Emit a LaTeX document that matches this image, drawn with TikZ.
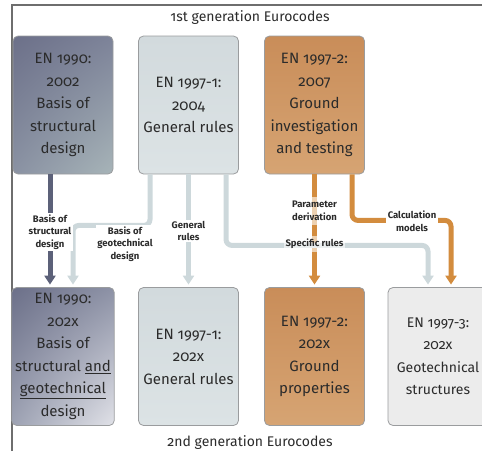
\documentclass[tikz,border=0pt]{standalone}
\usepackage{fontspec}
\setmainfont{Fira Sans}[Numbers=OldStyle]
\usetikzlibrary{arrows.meta,shadings}
\definecolor{ink}{HTML}{2B2B2B}
\definecolor{boxedge}{HTML}{9A9C9E}
\definecolor{slate}{HTML}{5C6179}
\definecolor{mist}{HTML}{CDD8DB}
\definecolor{amber}{HTML}{D38C3E}
\definecolor{frameline}{HTML}{6E6E6E}
% box fills
\definecolor{slateA}{HTML}{6C7089}
\definecolor{slateB}{HTML}{7D8399}
\definecolor{slateC}{HTML}{8A92A3}
\definecolor{slateD}{HTML}{A7B4B8}
\definecolor{slateE}{HTML}{8D92A6}
\definecolor{slateF}{HTML}{9DA2B3}
\definecolor{slateG}{HTML}{E1E2E8}
\definecolor{mistA}{HTML}{D2DADD}
\definecolor{mistB}{HTML}{DCE3E5}
\definecolor{tanA}{HTML}{C98D59}
\definecolor{tanB}{HTML}{D6A473}
\definecolor{pale}{HTML}{ECECEC}
\begin{document}
\begin{tikzpicture}[x=1pt,y=-1pt,
  box/.style={draw=boxedge,line width=.8pt,rounded corners=5pt,minimum width=100pt,minimum height=138pt,align=center,text=ink,font=\fontsize{15}{22.5}\selectfont},
  tag/.style={fill=white,inner sep=1.5pt,align=center,text=ink,font=\bfseries\fontsize{9.5}{12.5}\selectfont},
  link/.style={line width=5pt,rounded corners=6pt,-{Triangle[width=11pt,length=9pt]},shorten >=2.5pt},
  title/.style={text=ink,font=\fontsize{14}{16}\selectfont}]
\useasboundingbox (0,0) rectangle (482,451);
\draw[frameline,line width=1.3pt] (12,451) -- (12,5) -- (482,5);
\node(first)[title] at (250,18){1st generation Eurocodes};
\node(second)[title] at (250,443){2nd generation Eurocodes};
% first generation
\node(old1)[box,shade,upper left=slateA,upper right=slateB,lower left=slateC,lower right=slateD] at (63,105){EN 1990:\\2002\\Basis of\\structural\\design};
\node(old2)[box,shade,top color=mistA,bottom color=mistB] at (188.5,105){EN 1997-1:\\2004\\General rules};
\node(old3)[box,shade,top color=tanA,bottom color=tanB] at (314.5,105){EN 1997-2:\\2007\\Ground\\investigation\\and testing};
% second generation
\node(new1)[box,shade,upper left=slateA,upper right=slateE,lower left=slateF,lower right=slateG] at (63,356.5){EN 1990:\\202x\\Basis of\\structural \underline{and}\\\underline{geotechnical}\\design};
\node(new2)[box,shade,top color=mistA,bottom color=mistB] at (188.5,356.5){EN 1997-1:\\202x\\General rules};
\node(new3)[box,shade,top color=tanA,bottom color=tanB] at (314.5,356.5){EN 1997-2:\\202x\\Ground\\properties};
\node(new4)[box,fill=pale,font=\fontsize{14}{22.5}\selectfont] at (438,356.5){EN 1997-3:\\202x\\Geotechnical\\structures};
% links
\draw[link,slate] ([xshift=-13pt]old1.south) -- ([xshift=-13pt]new1.north);
\draw[link,mist] ([xshift=-38.5pt]old2.south) -- ++(0,51) -| ([xshift=10pt]new1.north);
\draw[link,mist] (old2.south) -- (new2.north);
\draw[link,amber] (old3.south) -- (new3.north);
\draw[link,mist] ([xshift=37.5pt]old2.south) -- ++(0,71) -| ([xshift=-10pt]new4.north);
\draw[link,amber] ([xshift=37.5pt]old3.south) -- ++(0,46) -| ([xshift=13pt]new4.north);
% labels
\node(basisstr)[tag] at (50,232){Basis of\\structural\\design};
\node(basisgeo)[tag] at (125,244){Basis of\\geotechnical\\design};
\node(genrules)[tag] at (188.5,231){General\\rules};
\node(paramder)[tag,fill opacity=.6,text opacity=1,inner ysep=4pt] at (314.5,211){Parameter\\derivation};
\node(specrules)[tag,fill opacity=.6,text opacity=1,inner ysep=3pt] at (314.5,244){Specific rules};
\node(calcmod)[tag] at (412,221){Calculation\\models};
\end{tikzpicture}
\end{document}
